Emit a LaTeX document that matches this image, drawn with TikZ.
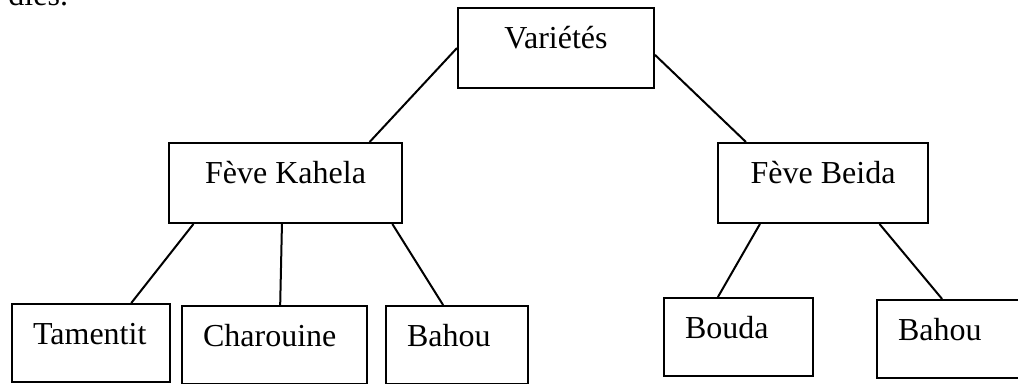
\documentclass[tikz,border=0pt]{standalone}
\usepackage{fontspec}
\setmainfont{Liberation Serif}
\usetikzlibrary{calc}

\begin{document}
\begin{tikzpicture}[
    x=0.375pt, y=-0.375pt,
    line width=0.75pt,
    every node/.style={font=\fontsize{12}{14}\selectfont},
    box/.style={draw, inner ysep=0pt, text height=15pt},
    topbox/.style={box, inner xsep=0pt, text depth=15pt},
    leafbox/.style={box, align=left, inner xsep=7.9pt, text depth=14.4pt}
]
\useasboundingbox (0,0) rectangle (1018,383);
\clip (0,0) rectangle (1018,383);

% Reste du texte de la page
\node[anchor=base east, inner sep=0pt] (cut) at (69,5) {dies.};

% Racine
\node[topbox, minimum width=73.5pt, anchor=north west] (var) at (457,7) {Variétés};

% Deux groupes
\node[topbox, minimum width=87.4pt, anchor=north west] (kahela) at (168,142) {Fève Kahela};
\node[topbox, minimum width=78.8pt, anchor=north west] (beida) at (717,142) {Fève Beida};
\draw (var.west) -- (kahela.26);
\draw (var.-4) -- (beida.152);

% Sous Fève Kahela
\node[leafbox, text width=43.5pt, anchor=north west] (tamentit) at (11,303) {Tamentit};
\node[leafbox, text width=53.6pt, anchor=north west] (charouine) at (181,305) {Charouine};
\node[leafbox, text width=37.4pt, anchor=north west] (bahouk) at (385,305) {Bahou};
\draw (kahela.-156) -- (tamentit.45);
\draw (kahela.265) -- (charouine.82);
\draw (kahela.-21) -- (bahouk.109);

% Sous Fève Beida
\node[leafbox, text width=40pt, anchor=north west] (bouda) at (663,297) {Bouda};
\node[leafbox, text width=44pt, anchor=north west] (bahoub) at (876,299) {Bahou};
\draw (beida.213) -- (bouda.117);
\draw (beida.-36) -- (bahoub.110);

\end{tikzpicture}
\end{document}
